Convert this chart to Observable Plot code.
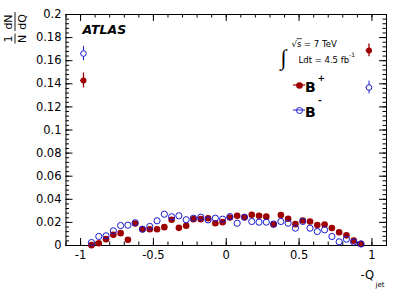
<!DOCTYPE html>
<html><head><meta charset="utf-8">
<script src="https://cdn.jsdelivr.net/npm/d3@7"></script>
<script src="https://cdn.jsdelivr.net/npm/@observablehq/plot@0.6"></script>
<style>html,body{margin:0;padding:0;background:#fff} svg{display:block}</style>
</head><body><div id="chart"></div>
<script>
// ---- data ----
const binCenters = [-0.925,-0.875,-0.825,-0.775,-0.725,-0.675,-0.625,-0.575,-0.525,-0.475,
  -0.425,-0.375,-0.325,-0.275,-0.225,-0.175,-0.125,-0.075,-0.025,0.025,
  0.075,0.125,0.175,0.225,0.275,0.325,0.375,0.425,0.475,0.525,
  0.575,0.625,0.675,0.725,0.775,0.825,0.875,0.925];
const bPlus = [0.0003,0.0020,0.0055,0.0093,0.0107,0.0050,0.0190,0.0141,0.0141,0.0141,
  0.0159,0.0223,0.0153,0.0171,0.0228,0.0228,0.0236,0.0193,0.0202,0.0242,
  0.0257,0.0245,0.0266,0.0257,0.0250,0.0182,0.0263,0.0232,0.0185,0.0217,
  0.0208,0.0178,0.0182,0.0151,0.0115,0.0088,0.0042,0.0015];
const bMinus = [0.0026,0.0078,0.0084,0.0127,0.0173,0.0176,0.0197,0.0141,0.0165,0.0214,
  0.0271,0.0249,0.0257,0.0223,0.0236,0.0245,0.0222,0.0236,0.0228,0.0250,
  0.0193,0.0245,0.0208,0.0202,0.0202,0.0186,0.0208,0.0193,0.0150,0.0208,
  0.0150,0.0121,0.0136,0.0078,0.0032,0.0055,0.0030,0.0013];
const edgeX = [-0.98, 0.98];
const bPlusEdge = [0.1429, 0.1689];
const bPlusEdgeErr = [0.0065, 0.0055];
const bMinusEdge = [0.1662, 0.1368];
const bMinusEdgeErr = [0.0062, 0.0055];
const xTickLabels = [-1, -0.5, 0, 0.5, 1];
const yTickLabels = [0, 0.02, 0.04, 0.06, 0.08, 0.1, 0.12, 0.14, 0.16, 0.18, 0.2];

// ---- layout ----
const W = 407, H = 293, mL = 65.5, mR = 21, mT = 14, mB = 48;
const fw = W - mL - mR, fh = H - mT - mB;
const RED = "#9e0000", BLUE = "#1a1ad0";
const FONT = "DejaVu Sans";

const xMinor = d3.range(-11, 12).map(i => i / 10);
const yMinor = d3.range(0, 51).map(i => i * 0.004);

const bulk = binCenters.map((x, i) => ({x, plus: bPlus[i], minus: bMinus[i]}));
const edge = edgeX.map((x, i) => ({x, p: bPlusEdge[i], pe: bPlusEdgeErr[i], m: bMinusEdge[i], me: bMinusEdgeErr[i]}));

function decor() {
  const g = d3.create("svg:g").attr("fill", "none");
  // fraction bars of y title
  g.append("line").attr("x1", 15).attr("x2", 15).attr("y1", 33.5).attr("y2", 43.5).attr("stroke", "black").attr("stroke-width", 0.9);
  g.append("line").attr("x1", 15).attr("x2", 15).attr("y1", 12).attr("y2", 31).attr("stroke", "black").attr("stroke-width", 0.9);
  // sqrt overline
  g.append("line").attr("x1", 296.5).attr("x2", 302).attr("y1", 38.7).attr("y2", 38.7).attr("stroke", "black").attr("stroke-width", 0.7);
  // legend marker lines
  g.append("line").attr("x1", 293).attr("x2", 305).attr("y1", 85).attr("y2", 85).attr("stroke", RED).attr("stroke-width", 1.2);
  g.append("line").attr("x1", 293).attr("x2", 305).attr("y1", 110).attr("y2", 110).attr("stroke", BLUE).attr("stroke-width", 1);
  return g.node();
}

const T = (text, dx, dy, opts = {}) => Plot.text([text], {
  text: d => d, frameAnchor: "top-left", dx: dx - mL, dy: dy - mT,
  textAnchor: "start", lineAnchor: "bottom", fontFamily: FONT, fill: "black", ...opts
});
const R = (text, cx, cy, opts = {}) => Plot.text([text], {
  text: d => d, frameAnchor: "top-left", dx: cx - mL, dy: cy - mT, rotate: -90,
  textAnchor: "middle", lineAnchor: "middle", fontFamily: FONT, fontSize: 11, fill: "black", ...opts
});

const chart = Plot.plot({
  width: W, height: H,
  marginLeft: mL, marginRight: mR, marginTop: mT, marginBottom: mB,
  x: {domain: [-1.1, 1.1], axis: null, label: null},
  y: {domain: [0, 0.2], axis: null, label: null},
  style: {fontFamily: FONT, background: "white", color: "black"},
  marks: [
    // ticks inside the frame (ROOT style)
    Plot.ruleX(xTickLabels, {x: d => d, insetTop: fh - 7, stroke: "black"}),
    Plot.ruleX(xMinor, {x: d => d, insetTop: fh - 3.5, stroke: "black"}),
    Plot.ruleX(xTickLabels, {x: d => d, insetBottom: fh - 7, stroke: "black"}),
    Plot.ruleX(xMinor, {x: d => d, insetBottom: fh - 3.5, stroke: "black"}),
    Plot.ruleY(yTickLabels, {y: d => d, insetRight: fw - 7, stroke: "black"}),
    Plot.ruleY(yMinor, {y: d => d, insetRight: fw - 3.5, stroke: "black"}),
    Plot.ruleY(yTickLabels, {y: d => d, insetLeft: fw - 7, stroke: "black"}),
    Plot.ruleY(yMinor, {y: d => d, insetLeft: fw - 3.5, stroke: "black"}),
    Plot.frame({stroke: "black", strokeWidth: 1}),
    Plot.axisX({ticks: xTickLabels, tickSize: 0, tickPadding: 5, label: null, tickFormat: d => String(d), fontSize: 11.5, fontFamily: FONT}),
    Plot.axisY({ticks: yTickLabels, tickSize: 0, tickPadding: 4.5, label: null, tickFormat: d => String(d), fontSize: 11.5, fontFamily: FONT}),
    // data
    Plot.dot(bulk, {x: "x", y: "plus", r: 3.3, fill: RED}),
    Plot.dot(bulk, {x: "x", y: "minus", r: 3.1, stroke: BLUE, strokeWidth: 1, fill: "none"}),
    Plot.ruleX(edge, {x: "x", y1: d => d.p - d.pe, y2: d => d.p + d.pe, stroke: RED, strokeWidth: 1.3}),
    Plot.ruleY(edge, {y: "p", x1: d => d.x - 0.02, x2: d => d.x + 0.02, stroke: RED, strokeWidth: 1.3}),
    Plot.dot(edge, {x: "x", y: "p", r: 3, fill: RED}),
    Plot.ruleX(edge, {x: "x", y1: d => d.m - d.me, y2: d => d.m + d.me, stroke: BLUE, strokeWidth: 1}),
    Plot.ruleY(edge, {y: "m", x1: d => d.x - 0.02, x2: d => d.x + 0.02, stroke: BLUE, strokeWidth: 1}),
    Plot.dot(edge, {x: "x", y: "m", r: 2.8, stroke: BLUE, strokeWidth: 1, fill: "white"}),
    // annotations
    T("ATLAS", 82, 33, {fontSize: 12.5, fontWeight: "bold", fontStyle: "italic"}),
    T("∫", 280, 64, {fontSize: 22, fontFamily: "Liberation Serif"}),
    T("√s = 7 TeV", 291, 46.5, {fontSize: 8.5}),
    T("Ldt = 4.5 fb", 298, 62, {fontSize: 8.5}),
    T("-1", 348.5, 56, {fontSize: 6}),
    Plot.dot([0], {frameAnchor: "top-left", dx: 299 - mL, dy: 85 - mT, r: 3.3, fill: RED}),
    Plot.dot([0], {frameAnchor: "top-left", dx: 299 - mL, dy: 110 - mT, r: 3, stroke: BLUE, fill: "white", strokeWidth: 1}),
    T("B", 304.5, 91, {fontSize: 14, fontWeight: "bold"}),
    T("+", 317, 80.5, {fontSize: 9, fontWeight: "bold"}),
    T("B", 304.5, 116.5, {fontSize: 14, fontWeight: "bold"}),
    T("-", 317.5, 102, {fontSize: 9, fontWeight: "bold"}),
    T("-Q", 360, 278.5, {fontSize: 11.5}),
    T("jet", 375, 286.5, {fontSize: 7}),
    R("1", 8, 38.5), R("N", 22, 38.5), R("dN", 8, 21.5), R("dQ", 22, 21.5),
    decor
  ]
});
document.getElementById("chart").appendChild(chart);
</script>
</body></html>
